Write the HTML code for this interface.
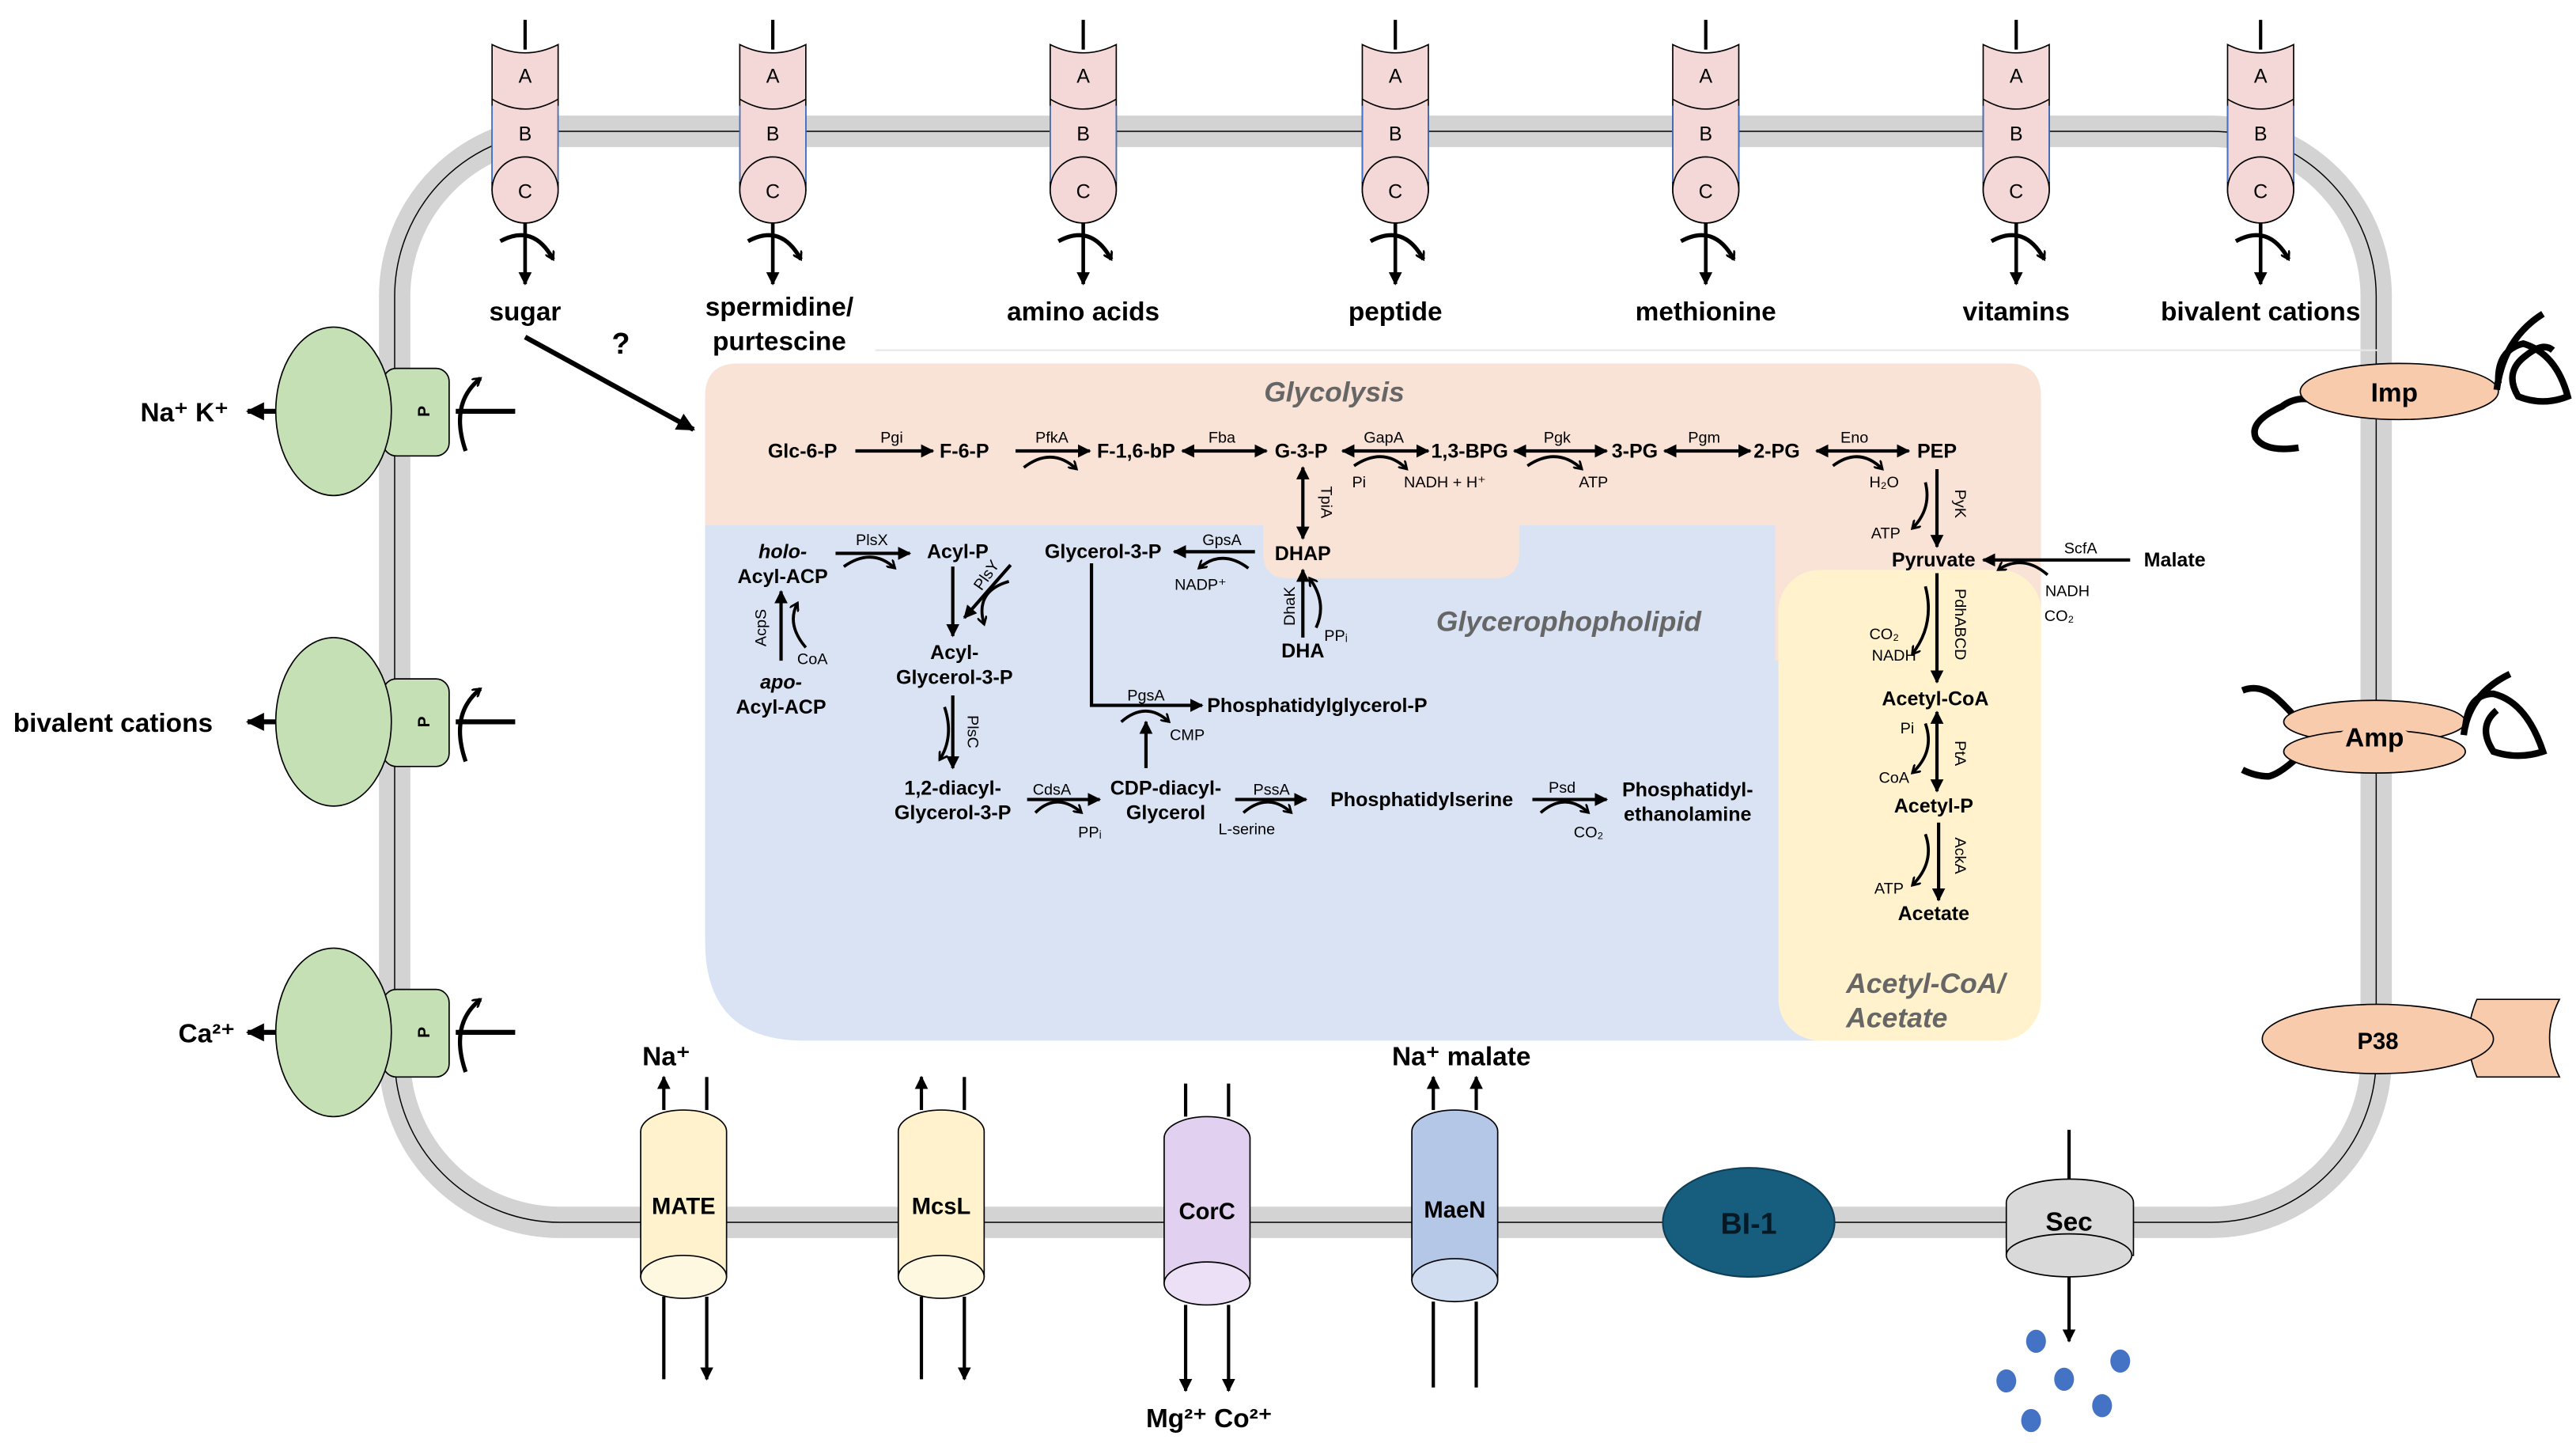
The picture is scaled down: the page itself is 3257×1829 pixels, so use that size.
<!DOCTYPE html>
<html><head><meta charset="utf-8"><style>
html,body{margin:0;padding:0;background:#fff;}
svg{display:block;}
text{font-family:"Liberation Sans",Arial,sans-serif;}
.b{font-weight:bold;font-size:12px;}
.s{font-size:9.5px;}
.t{font-weight:bold;font-size:16px;}
.ttl{font-weight:bold;font-style:italic;font-size:17px;fill:#666;}
</style></head><body>
<svg width="3257" height="1829" viewBox="0 0 1560 876" xmlns="http://www.w3.org/2000/svg">
<defs>
<marker id="a" viewBox="0 0 10 10" refX="9" refY="5" markerWidth="8" markerHeight="8" markerUnits="userSpaceOnUse" orient="auto-start-reverse"><path d="M0,0 L10,5 L0,10 z" fill="#000"/></marker>
<marker id="ab" viewBox="0 0 10 10" refX="9" refY="5" markerWidth="11" markerHeight="11" markerUnits="userSpaceOnUse" orient="auto-start-reverse"><path d="M0,0 L10,5 L0,10 z" fill="#000"/></marker>
<marker id="h" viewBox="0 0 10 10" refX="8" refY="5" markerWidth="6" markerHeight="6" markerUnits="userSpaceOnUse" orient="auto"><path d="M0,0 L8,5 L0,10" fill="none" stroke="#000" stroke-width="2.2"/></marker>
<g id="tp">
<line x1="0" y1="12" x2="0" y2="30" stroke="#000" stroke-width="2"/>
<path d="M-20,27 Q0,37 20,27 V115 A20,20 0 0 1 -20,115 Z" fill="#f4d7d7" stroke="#000" stroke-width="0.8"/>
<path d="M-20,60 Q0,72 20,60" fill="none" stroke="#000" stroke-width="0.8"/>
<circle cx="0" cy="115" r="20" fill="#f4d7d7" stroke="#000" stroke-width="0.8"/>
<line x1="-20" y1="64" x2="-20" y2="110" stroke="#4472c4" stroke-width="0.8"/>
<line x1="20" y1="64" x2="20" y2="110" stroke="#4472c4" stroke-width="0.8"/>
<text x="0" y="50" text-anchor="middle" font-size="12">A</text>
<text x="0" y="85" text-anchor="middle" font-size="12">B</text>
<text x="0" y="120" text-anchor="middle" font-size="12">C</text>
<line x1="0" y1="135" x2="0" y2="172" stroke="#000" stroke-width="2.2" marker-end="url(#a)"/>
<path d="M-15,146 Q5,135 17,157" fill="none" stroke="#000" stroke-width="2.5" marker-end="url(#h)"/>
</g>
<g id="lp">
<rect x="232" y="-26" width="40" height="53" rx="8" fill="#c5e0b4" stroke="#000" stroke-width="0.8"/>
<ellipse cx="202" cy="0" rx="35" ry="51" fill="#c5e0b4" stroke="#000" stroke-width="0.8"/>
<text x="256" y="0" font-size="10" font-weight="bold" text-anchor="middle" transform="rotate(-90 256 0) translate(0,4)">P</text>
<line x1="312" y1="0" x2="276" y2="0" stroke="#000" stroke-width="3"/>
<path d="M282,24 Q272,-5 291,-20" fill="none" stroke="#000" stroke-width="2.5" marker-end="url(#h)"/>
<line x1="167" y1="0" x2="150" y2="0" stroke="#000" stroke-width="3" marker-end="url(#ab)"/>
</g>
</defs>
<rect width="1560" height="876" fill="#fff"/>
<!-- membrane -->
<rect x="239" y="79.5" width="1200" height="660.5" rx="100" fill="none" stroke="#d3d3d3" stroke-width="19"/>
<rect x="239" y="79.5" width="1200" height="660.5" rx="100" fill="none" stroke="#000" stroke-width="0.7"/>
<line x1="530" y1="212" x2="1440" y2="212" stroke="#e8e8e8" stroke-width="1"/>

<!-- regions -->
<path d="M427,318 H1100 V630 H487 Q427,630 427,570 Z" fill="#dae3f3"/>
<path d="M447,220 H1216 Q1236,220 1236,240 V400 H1075 V318 H920 V335 Q920,350 905,350 H780 Q765,350 765,335 V318 H427 V240 Q427,220 447,220 Z" fill="#f9e3d6"/>
<rect x="1077" y="345" width="159" height="285" rx="25" fill="#fff2cc"/>
<text class="ttl" x="808" y="243" text-anchor="middle" font-size="16">Glycolysis</text>
<text class="ttl" x="950" y="382" text-anchor="middle">Glycerophopholipid</text>
<text class="ttl" x="1118" y="601">Acetyl-CoA/</text>
<text class="ttl" x="1118" y="622">Acetate</text>

<use href="#tp" transform="translate(318,0)"/>
<use href="#tp" transform="translate(468,0)"/>
<use href="#tp" transform="translate(656,0)"/>
<use href="#tp" transform="translate(845,0)"/>
<use href="#tp" transform="translate(1033,0)"/>
<use href="#tp" transform="translate(1221,0)"/>
<use href="#tp" transform="translate(1369,0)"/>
<text class="t" x="318" y="194" text-anchor="middle">sugar</text>
<text class="t" x="472" y="191" text-anchor="middle">spermidine/</text>
<text class="t" x="472" y="212" text-anchor="middle">purtescine</text>
<text class="t" x="656" y="194" text-anchor="middle">amino acids</text>
<text class="t" x="845" y="194" text-anchor="middle">peptide</text>
<text class="t" x="1033" y="194" text-anchor="middle">methionine</text>
<text class="t" x="1221" y="194" text-anchor="middle">vitamins</text>
<text class="t" x="1369" y="194" text-anchor="middle">bivalent cations</text>
<line x1="318" y1="204" x2="420" y2="260" stroke="#000" stroke-width="3" marker-end="url(#ab)"/>
<text x="376" y="214" text-anchor="middle" font-size="18" font-weight="bold">?</text>

<use href="#lp" transform="translate(0,249)"/>
<use href="#lp" transform="translate(0,437)"/>
<use href="#lp" transform="translate(0,625)"/>
<text class="t" x="85" y="255">Na⁺ K⁺</text>
<text class="t" x="8" y="443">bivalent cations</text>
<text class="t" x="108" y="631">Ca²⁺</text>

<!-- right proteins -->
<path d="M1400,242 Q1390,240 1382,246 Q1362,255 1366,265 Q1372,274 1392,271" fill="none" stroke="#000" stroke-width="4"/>
<ellipse cx="1453" cy="237" rx="60" ry="17" fill="#f8cbad" stroke="#000" stroke-width="0.8"/>
<text class="t" x="1450" y="243" text-anchor="middle">Imp</text>
<path d="M1512,236 Q1516,205 1540,190 M1513,232 Q1512,212 1528,208 Q1548,214 1555,240 Q1540,246 1525,240 Q1516,225 1530,215 Q1540,207 1546,212" fill="none" stroke="#000" stroke-width="4"/>
<path d="M1395,440 Q1385,428 1378,422 Q1368,414 1358,418 M1395,455 Q1382,468 1374,470 Q1366,470 1358,466" fill="none" stroke="#000" stroke-width="4"/>
<ellipse cx="1438" cy="437" rx="55" ry="13" fill="#f8cbad" stroke="#000" stroke-width="0.8"/>
<ellipse cx="1438" cy="455" rx="55" ry="13" fill="#f8cbad" stroke="#000" stroke-width="0.8"/>
<ellipse cx="1438" cy="446" rx="22" ry="7" fill="#f8cbad"/>
<text class="t" x="1438" y="452" text-anchor="middle">Amp</text>
<path d="M1492,445 Q1495,420 1520,408 M1493,440 Q1495,420 1510,420 Q1530,425 1540,455 Q1525,460 1510,455 Q1500,440 1512,430" fill="none" stroke="#000" stroke-width="4"/>
<path d="M1500,605 H1550 Q1538,628 1550,652 H1500 Q1490,628 1500,605 Z" fill="#f8cbad" stroke="#000" stroke-width="0.8"/>
<ellipse cx="1440" cy="629" rx="70" ry="21" fill="#f8cbad" stroke="#000" stroke-width="0.8"/>
<text x="1440" y="635" text-anchor="middle" font-size="14" font-weight="bold">P38</text>

<!-- bottom cylinders -->
<g stroke="#000" stroke-width="2">
<line x1="402" y1="672" x2="402" y2="652" marker-end="url(#a)"/><line x1="428" y1="672" x2="428" y2="652"/>
<line x1="402" y1="785" x2="402" y2="835"/><line x1="428" y1="785" x2="428" y2="835" marker-end="url(#a)"/>
<line x1="558" y1="672" x2="558" y2="652" marker-end="url(#a)"/><line x1="584" y1="672" x2="584" y2="652"/>
<line x1="558" y1="785" x2="558" y2="835"/><line x1="584" y1="785" x2="584" y2="835" marker-end="url(#a)"/>
<line x1="718" y1="676" x2="718" y2="656"/><line x1="744" y1="676" x2="744" y2="656"/>
<line x1="718" y1="790" x2="718" y2="842" marker-end="url(#a)"/><line x1="744" y1="790" x2="744" y2="842" marker-end="url(#a)"/>
<line x1="868" y1="672" x2="868" y2="652" marker-end="url(#a)"/><line x1="894" y1="672" x2="894" y2="652" marker-end="url(#a)"/>
<line x1="868" y1="788" x2="868" y2="840"/><line x1="894" y1="788" x2="894" y2="840"/>
<line x1="1253" y1="684" x2="1253" y2="716"/>
<line x1="1253" y1="770" x2="1253" y2="812" marker-end="url(#a)"/>
</g>
<g stroke="#000" stroke-width="0.8">
<path d="M388,685 A26,13 0 0 1 440,685 V773 H388 Z" fill="#fff2cc"/><ellipse cx="414" cy="773" rx="26" ry="13" fill="#fff8e1"/>
<path d="M544,685 A26,13 0 0 1 596,685 V773 H544 Z" fill="#fff2cc"/><ellipse cx="570" cy="773" rx="26" ry="13" fill="#fff8e1"/>
<path d="M705,689 A26,13 0 0 1 757,689 V777 H705 Z" fill="#e2d0f0"/><ellipse cx="731" cy="777" rx="26" ry="13" fill="#ece0f6"/>
<path d="M855,685 A26,13 0 0 1 907,685 V775 H855 Z" fill="#b4c7e7"/><ellipse cx="881" cy="775" rx="26" ry="13" fill="#d0dcf0"/>
<path d="M1215,728 A38,14 0 0 1 1292,728 V760 H1215 Z" fill="#d9d9d9"/><ellipse cx="1253" cy="760" rx="38" ry="13" fill="#d9d9d9"/>
</g>
<ellipse cx="1059" cy="740" rx="52" ry="33" fill="#165d7e" stroke="#0e3d55" stroke-width="1"/>
<text x="1059" y="747" text-anchor="middle" font-size="18" font-weight="bold" fill="#061a26">BI-1</text>
<text x="414" y="735" text-anchor="middle" font-size="14" font-weight="bold">MATE</text>
<text x="570" y="735" text-anchor="middle" font-size="14" font-weight="bold">McsL</text>
<text x="731" y="738" text-anchor="middle" font-size="14" font-weight="bold">CorC</text>
<text x="881" y="737" text-anchor="middle" font-size="14" font-weight="bold">MaeN</text>
<text x="1253" y="745" text-anchor="middle" font-size="16" font-weight="bold">Sec</text>
<text class="t" x="389" y="645">Na⁺</text>
<text class="t" x="843" y="645">Na⁺ malate</text>
<text class="t" x="694" y="864">Mg²⁺ Co²⁺</text>
<g fill="#4472c4"><ellipse cx="1215" cy="836" rx="6" ry="7"/><ellipse cx="1284" cy="824" rx="6" ry="7"/><ellipse cx="1233" cy="812" rx="6" ry="7"/><ellipse cx="1250" cy="835" rx="6" ry="7"/><ellipse cx="1273" cy="851" rx="6" ry="7"/><ellipse cx="1230" cy="860" rx="6" ry="7"/></g>

<!-- glycolysis -->
<g class="b" text-anchor="middle">
<text x="486" y="277">Glc-6-P</text><text x="584" y="277">F-6-P</text><text x="688" y="277">F-1,6-bP</text>
<text x="788" y="277">G-3-P</text><text x="890" y="277">1,3-BPG</text><text x="990" y="277">3-PG</text>
<text x="1076" y="277">2-PG</text><text x="1173" y="277">PEP</text>
<text x="1171" y="343">Pyruvate</text><text x="1172" y="427">Acetyl-CoA</text><text x="1171" y="492">Acetyl-P</text><text x="1171" y="557">Acetate</text>
<text x="789" y="339">DHAP</text><text x="789" y="398">DHA</text>
<text x="668" y="338">Glycerol-3-P</text><text x="580" y="338">Acyl-P</text>
<text x="474" y="338" font-style="italic">holo-</text><text x="474" y="353">Acyl-ACP</text>
<text x="473" y="417" font-style="italic">apo-</text><text x="473" y="432">Acyl-ACP</text>
<text x="578" y="399">Acyl-</text><text x="578" y="414">Glycerol-3-P</text>
<text x="577" y="481">1,2-diacyl-</text><text x="577" y="496">Glycerol-3-P</text>
<text x="706" y="481">CDP-diacyl-</text><text x="706" y="496">Glycerol</text>
<text x="861" y="488">Phosphatidylserine</text>
<text x="1022" y="482">Phosphatidyl-</text><text x="1022" y="497">ethanolamine</text>
<text x="731" y="431" text-anchor="start">Phosphatidylglycerol-P</text>
<text x="1317" y="343">Malate</text>
</g>
<g class="s" text-anchor="middle">
<text x="540" y="268">Pgi</text><text x="637" y="268">PfkA</text><text x="740" y="268">Fba</text><text x="838" y="268">GapA</text>
<text x="943" y="268">Pgk</text><text x="1032" y="268">Pgm</text><text x="1123" y="268">Eno</text>
<text x="823" y="295">Pi</text><text x="875" y="295">NADH + H⁺</text><text x="965" y="295">ATP</text><text x="1141" y="295">H₂O</text>
<text x="1142" y="326">ATP</text><text x="1260" y="335">ScfA</text><text x="1252" y="361">NADH</text><text x="1247" y="376">CO₂</text>
<text x="1141" y="387">CO₂</text><text x="1147" y="400">NADH</text><text x="1155" y="444">Pi</text><text x="1147" y="474">CoA</text><text x="1144" y="541">ATP</text>
<text x="740" y="330">GpsA</text><text x="727" y="357">NADP⁺</text><text x="809" y="388">PPᵢ</text>
<text x="528" y="330">PlsX</text><text x="492" y="402">CoA</text>
<text x="694" y="424">PgsA</text><text x="719" y="448">CMP</text>
<text x="637" y="481">CdsA</text><text x="660" y="507">PPᵢ</text><text x="770" y="481">PssA</text><text x="755" y="505">L-serine</text>
<text x="946" y="480">Psd</text><text x="962" y="507">CO₂</text>
<text transform="translate(1184,305) rotate(90)" text-anchor="middle">PyK</text>
<text transform="translate(1184,378) rotate(90)" text-anchor="middle">PdhABCD</text>
<text transform="translate(1184,456) rotate(90)" text-anchor="middle">PtA</text>
<text transform="translate(1184,518) rotate(90)" text-anchor="middle">AckA</text>
<text transform="translate(800,304) rotate(90)" text-anchor="middle">TpiA</text>
<text transform="translate(784,367) rotate(-90)" text-anchor="middle">DhaK</text>
<text transform="translate(464,380) rotate(-90)" text-anchor="middle">AcpS</text>
<text transform="translate(586,443) rotate(90)" text-anchor="middle">PlsC</text>
<text transform="translate(600,350) rotate(-55)" text-anchor="middle">PlsY</text>
</g>
<g stroke="#000" stroke-width="2" fill="none">
<line x1="518" y1="273" x2="565" y2="273" marker-end="url(#a)"/>
<line x1="615" y1="273" x2="660" y2="273" marker-end="url(#a)"/>
<line x1="716" y1="273" x2="767" y2="273" marker-start="url(#a)" marker-end="url(#a)"/>
<line x1="813" y1="273" x2="865" y2="273" marker-start="url(#a)" marker-end="url(#a)"/>
<line x1="917" y1="273" x2="973" y2="273" marker-start="url(#a)" marker-end="url(#a)"/>
<line x1="1008" y1="273" x2="1060" y2="273" marker-start="url(#a)" marker-end="url(#a)"/>
<line x1="1100" y1="273" x2="1156" y2="273" marker-start="url(#a)" marker-end="url(#a)"/>
<line x1="1173" y1="284" x2="1173" y2="331" marker-end="url(#a)"/>
<line x1="1290" y1="339" x2="1201" y2="339" marker-end="url(#a)"/>
<line x1="1173" y1="347" x2="1173" y2="413" marker-end="url(#a)"/>
<line x1="1173" y1="431" x2="1173" y2="479" marker-start="url(#a)" marker-end="url(#a)"/>
<line x1="1174" y1="498" x2="1174" y2="545" marker-end="url(#a)"/>
<line x1="789" y1="283" x2="789" y2="326" marker-start="url(#a)" marker-end="url(#a)"/>
<line x1="789" y1="386" x2="789" y2="345" marker-end="url(#a)"/>
<line x1="760" y1="334" x2="711" y2="334" marker-end="url(#a)"/>
<line x1="506" y1="335" x2="551" y2="335" marker-end="url(#a)"/>
<line x1="577" y1="343" x2="577" y2="385" marker-end="url(#a)"/>
<line x1="612" y1="342" x2="584" y2="374" marker-end="url(#a)"/>
<line x1="577" y1="421" x2="577" y2="465" marker-end="url(#a)"/>
<line x1="473" y1="400" x2="473" y2="358" marker-end="url(#a)"/>
<path d="M661,341 V427 H728" marker-end="url(#a)"/>
<line x1="694" y1="465" x2="694" y2="437" marker-end="url(#a)"/>
<line x1="622" y1="484" x2="666" y2="484" marker-end="url(#a)"/>
<line x1="748" y1="484" x2="791" y2="484" marker-end="url(#a)"/>
<line x1="928" y1="484" x2="973" y2="484" marker-end="url(#a)"/>
</g>
<g stroke="#000" stroke-width="1.8" fill="none" marker-end="url(#h)">
<path d="M620,283 Q637,270 652,284"/>
<path d="M820,282 Q838,270 852,284"/>
<path d="M925,282 Q943,270 958,284"/>
<path d="M1110,282 Q1126,270 1140,284"/>
<path d="M1166,292 Q1170,308 1158,320"/>
<path d="M1166,355 Q1172,378 1158,396"/>
<path d="M1166,438 Q1172,455 1158,468"/>
<path d="M1166,505 Q1172,522 1158,536"/>
<path d="M1240,348 Q1225,335 1210,345"/>
<path d="M756,344 Q740,332 726,344"/>
<path d="M797,380 Q804,365 793,350"/>
<path d="M511,343 Q528,331 542,344"/>
<path d="M488,392 Q476,378 483,365"/>
<path d="M611,352 Q590,358 596,378"/>
<path d="M572,428 Q578,446 569,460"/>
<path d="M679,437 Q694,424 708,437"/>
<path d="M627,492 Q640,479 655,492"/>
<path d="M753,492 Q768,479 782,492"/>
<path d="M933,492 Q948,479 962,492"/>
</g>
</svg>
</body></html>
